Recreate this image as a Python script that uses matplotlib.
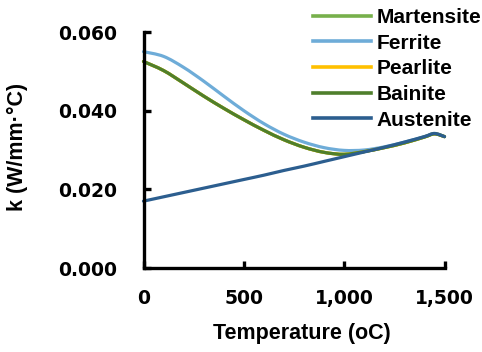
import matplotlib
matplotlib.use("Agg")
import numpy as np
import matplotlib.pyplot as plt
from matplotlib.path import Path
from matplotlib.patches import PathPatch
from matplotlib.lines import Line2D

# Temperature grid (°C) and thermal conductivity k (W/mm·°C) per phase
temperature = [0, 100, 200, 300, 400, 500, 600, 700, 800, 900, 1000,
               1100, 1200, 1300, 1400, 1450, 1500]
martensite = [0.0525, 0.0502, 0.0470, 0.0437, 0.0406, 0.0377, 0.0350, 0.0326,
              0.0307, 0.0294, 0.0289, 0.0296, 0.0306, 0.0318, 0.0333, 0.0341, 0.0334]
ferrite = [0.0550, 0.0538, 0.0510, 0.0475, 0.0437, 0.0400, 0.0367, 0.0340,
           0.0320, 0.0306, 0.0299, 0.0300, 0.0308, 0.0320, 0.0334, 0.0342, 0.0334]
pearlite = [0.0525, 0.0502, 0.0470, 0.0437, 0.0406, 0.0377, 0.0350, 0.0326,
            0.0307, 0.0294, 0.0289, 0.0296, 0.0306, 0.0318, 0.0333, 0.0341, 0.0334]
bainite = [0.0525, 0.0502, 0.0470, 0.0437, 0.0406, 0.0377, 0.0350, 0.0326,
           0.0307, 0.0294, 0.0289, 0.0296, 0.0306, 0.0318, 0.0333, 0.0341, 0.0334]
austenite = [0.0170, 0.0181, 0.0192, 0.0203, 0.0214, 0.0225, 0.0236, 0.0248,
             0.0259, 0.0271, 0.0283, 0.0295, 0.0307, 0.0320, 0.0334, 0.0342, 0.0334]

series_names = ["Martensite", "Ferrite", "Pearlite", "Bainite", "Austenite"]
series_values = [martensite, ferrite, pearlite, bainite, austenite]
series_colors = ["#77B04B", "#6EACD8", "#FFC000", "#4F7F2C", "#2C5E8F"]

x_ticks = [0, 500, 1000, 1500]
x_tick_labels = ["0", "500", "1,000", "1,500"]
y_ticks = [0.0, 0.02, 0.04, 0.06]
y_tick_labels = ["0.000", "0.020", "0.040", "0.060"]

FONT = ["Liberation Sans", "DejaVu Sans"]


def smooth_path(xs, ys):
    """Smoothed polyline through the points (Catmull-Rom as cubic Beziers)."""
    p = np.column_stack([xs, ys]).astype(float)
    n = len(p)
    verts = [p[0]]
    codes = [Path.MOVETO]
    for i in range(n - 1):
        p0 = p[i - 1] if i > 0 else p[i]
        p1, p2 = p[i], p[i + 1]
        p3 = p[i + 2] if i + 2 < n else p[i + 1]
        c1 = p1 + (p2 - p0) / 6.0
        c2 = p2 - (p3 - p1) / 6.0
        verts += [c1, c2, p2]
        codes += [Path.CURVE4] * 3
    return Path(verts, codes)


fig = plt.figure(figsize=(4.82, 3.52), dpi=100)
ax = fig.add_axes([143.5 / 482, 1 - 268 / 352, 301 / 482, 236 / 352])

handles = []
for name, vals, col in zip(series_names, series_values, series_colors):
    patch = PathPatch(smooth_path(temperature, vals), facecolor="none",
                      edgecolor=col, lw=2.3, capstyle="round", joinstyle="round",
                      clip_on=False)
    ax.add_patch(patch)
    handles.append(Line2D([], [], color=col, lw=2.6, label=name))

ax.set_xlim(0, 1500)
ax.set_ylim(0, 0.06)
ax.set_xticks(x_ticks)
ax.set_xticklabels(x_tick_labels)
ax.set_yticks(y_ticks)
ax.set_yticklabels(y_tick_labels)

for side in ("top", "right"):
    ax.spines[side].set_visible(False)
for side in ("left", "bottom"):
    ax.spines[side].set_linewidth(2.4)
    ax.spines[side].set_color("black")

ax.tick_params(axis="both", direction="in", length=5, width=2.4, colors="black")
ax.tick_params(axis="y", pad=19)
ax.tick_params(axis="x", pad=15)
for lbl in ax.get_xticklabels() + ax.get_yticklabels():
    lbl.set_fontfamily("DejaVu Sans")
    lbl.set_fontweight("bold")
    lbl.set_fontsize(13.5)

ax.set_xlabel("Temperature (oC)", family=FONT, fontweight="bold", fontsize=15.5)
ax.set_ylabel("k (W/mm\u00b7\u00b0C)", family=FONT, fontweight="bold", fontsize=15.5)
ax.xaxis.set_label_coords(0.525, -0.235)
ax.yaxis.set_label_coords(-0.384, 0.513)

leg = fig.legend(handles=handles, loc="upper left",
                 bbox_to_anchor=(313 / 482, 1 - 8 / 352),
                 frameon=False, prop={"family": FONT, "weight": "bold", "size": 15},
                 handlelength=2.8, handletextpad=0.25, labelspacing=0.32,
                 borderpad=0, borderaxespad=0)

fig.savefig("out.png", dpi=100)
